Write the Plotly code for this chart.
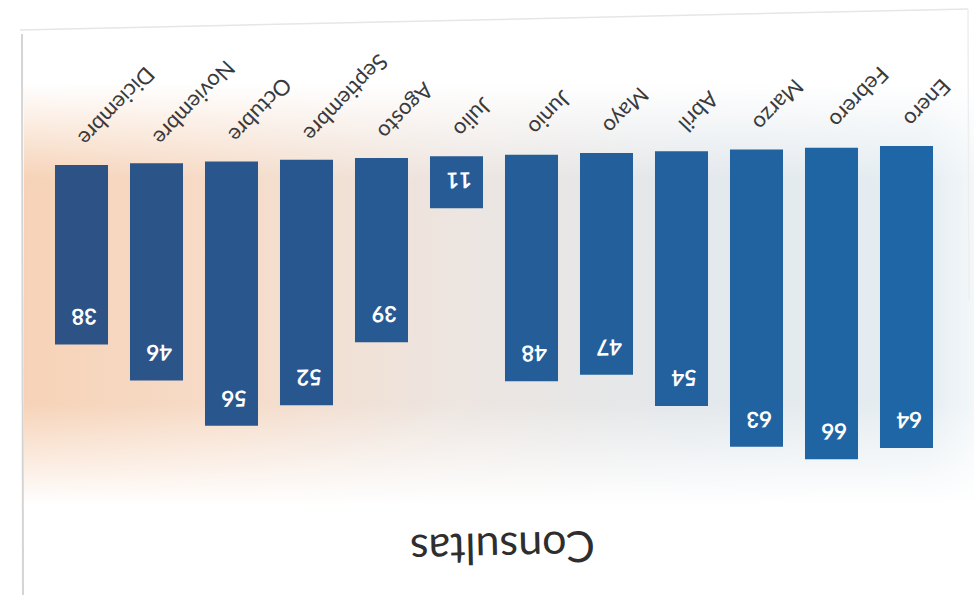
import base64
import plotly.graph_objects as go

# ---- data ----
months = ["Enero", "Febrero", "Marzo", "Abril", "Mayo", "Junio",
          "Julio", "Agosto", "Septiembre", "Octubre", "Noviembre", "Diciembre"]
consultas = [64, 66, 63, 54, 47, 48, 11, 39, 52, 56, 46, 38]
title_text = "Consultas"

# ---- style (scanned page: rotated ~180 deg, slightly skewed) ----
PX_PER_UNIT = 4.72
SKEW = 1.73 / PX_PER_UNIT          # baseline drops this much per bar going left
n = len(months)
bases = [SKEW * (i - (n - 1) / 2) for i in range(n)]

c_right = (0x1E, 0x66, 0xA6)
c_left = (0x2C, 0x52, 0x86)
bar_colors = []
for i in range(n):
    t = i / (n - 1)
    r, g, b = [round(c_right[k] + (c_left[k] - c_right[k]) * t) for k in range(3)]
    bar_colors.append(f"rgb({r},{g},{b})")

W, H = 974, 595
ML, MR, MT, MB = 44, 30, 100, 100
plot_h = H - MT - MB
zero_px = 155.5
y_top = -(zero_px - MT) / PX_PER_UNIT
y_bot = y_top + plot_h / PX_PER_UNIT

svg = f"""<svg xmlns="http://www.w3.org/2000/svg" width="{W}" height="{H}" viewBox="0 0 {W} {H}" preserveAspectRatio="none">
<defs>
<linearGradient id="h" x1="0" y1="0" x2="1" y2="0">
<stop offset="0" stop-color="#f6d3b8"/>
<stop offset="0.2" stop-color="#f6dbc7"/>
<stop offset="0.45" stop-color="#ede5e0"/>
<stop offset="0.7" stop-color="#e3e8ec"/>
<stop offset="0.95" stop-color="#e5edf2"/>
<stop offset="1" stop-color="#f3f7f9"/>
</linearGradient>
<linearGradient id="v" x1="0" y1="0" x2="0" y2="1">
<stop offset="0" stop-color="#000"/>
<stop offset="0.14" stop-color="#000"/>
<stop offset="0.3" stop-color="#fff"/>
<stop offset="0.68" stop-color="#fff"/>
<stop offset="0.85" stop-color="#000"/>
<stop offset="1" stop-color="#000"/>
</linearGradient>
<linearGradient id="e" x1="0" y1="0" x2="1" y2="0">
<stop offset="0" stop-color="#fff"/>
<stop offset="0.94" stop-color="#fff"/>
<stop offset="1" stop-color="#888"/>
</linearGradient>
<mask id="m"><rect width="{W}" height="{H}" fill="url(#v)"/></mask>
</defs>
<rect width="{W}" height="{H}" fill="#ffffff"/>
<rect x="24" width="{W - 24}" height="{H}" fill="url(#h)" mask="url(#m)"/>
<line x1="22" y1="34" x2="23" y2="{H}" stroke="#d4d4d4" stroke-width="2"/>
<line x1="20" y1="30" x2="968" y2="9" stroke="#e6e6e6" stroke-width="1.5"/>
<line x1="968" y1="9" x2="969" y2="300" stroke="#eeeeee" stroke-width="1.5"/>
</svg>"""
svg_uri = "data:image/svg+xml;base64," + base64.b64encode(svg.encode()).decode()

fig = go.Figure()
fig.add_trace(go.Bar(
    x=months, y=consultas, base=bases,
    marker=dict(color=bar_colors, line=dict(width=0)),
    hoverinfo="skip", showlegend=False,
))

annotations = []
for i, (m, v) in enumerate(zip(months, consultas)):
    # category labels (upside down, diagonal)
    annotations.append(dict(
        x=m, y=bases[i] - 10 / PX_PER_UNIT, xref="x", yref="y",
        text=m, showarrow=False, textangle=133.7,
        xanchor="left", yanchor="bottom", xshift=-11,
        font=dict(family="Lato, 'Open Sans', sans-serif", size=22, color="#3a3a3a"),
    ))
    # value labels (upside down, inside bar end)
    annotations.append(dict(
        x=m, y=bases[i] + v, xref="x", yref="y",
        text=f"<b>{v}</b>", showarrow=False, textangle=178.7,
        xanchor="center", yanchor="middle", yshift=27, xshift=3,
        font=dict(family="Lato, 'Open Sans', sans-serif", size=22, color="#ffffff"),
    ))

# title (upside down, at the bottom)
annotations.append(dict(
    x=(502 - ML) / (W - ML - MR), y=(H - MB - 550) / plot_h,
    xref="paper", yref="paper", text=title_text, showarrow=False,
    textangle=178.7, xanchor="center", yanchor="middle",
    font=dict(family="Lato, 'Open Sans', sans-serif", size=43, color="#2e2e2e"),
))

fig.update_layout(
    width=W, height=H,
    margin=dict(l=ML, r=MR, t=MT, b=MB),
    paper_bgcolor="#ffffff", plot_bgcolor="rgba(0,0,0,0)",
    bargap=0.293,
    xaxis=dict(visible=False, range=[n - 0.5, -0.5],
               categoryorder="array", categoryarray=months),
    yaxis=dict(visible=False, range=[y_bot, y_top]),
    annotations=annotations,
    images=[dict(
        source=svg_uri, xref="paper", yref="paper",
        x=-ML / (W - ML - MR), y=(H - MB) / plot_h,
        sizex=W / (W - ML - MR), sizey=H / plot_h,
        xanchor="left", yanchor="top", sizing="stretch", layer="below",
    )],
)

fig.write_html("out.html")
